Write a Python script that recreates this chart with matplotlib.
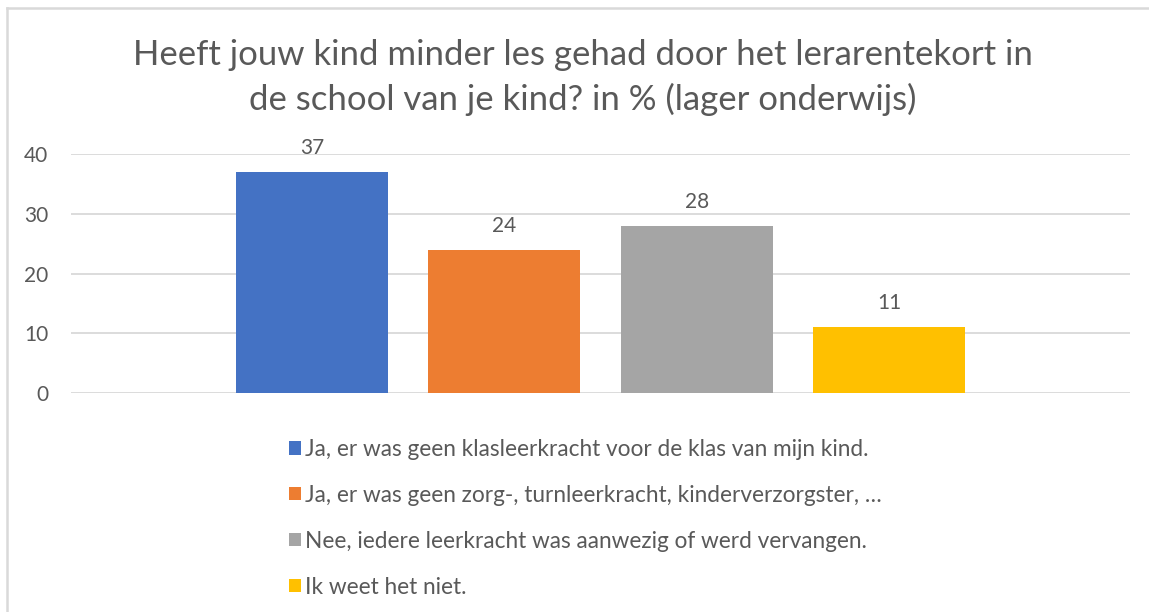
#!/usr/bin/env python3
import matplotlib.pyplot as plt
from matplotlib.lines import Line2D

plt.rcParams['font.family'] = ['Lato', 'DejaVu Sans']

title_lines = ['Heeft jouw kind minder les gehad door het lerarentekort in',
               'de school van je kind? in % (lager onderwijs)']
categories = ['Ja, er was geen klasleerkracht voor de klas van mijn kind.',
              'Ja, er was geen zorg-, turnleerkracht, kinderverzorgster, \u2026',
              'Nee, iedere leerkracht was aanwezig of werd vervangen.',
              'Ik weet het niet.']
values = [37, 24, 28, 11]
colours = ['#4472C4', '#ED7D31', '#A5A5A5', '#FFC000']
yticks = [0, 10, 20, 30, 40]

text_col = '#595959'
grid_col = '#D9D9D9'

fig = plt.figure(figsize=(11.49, 6.12), dpi=100)
ax = fig.add_axes([0.0618, 0.3578, 0.9217, 0.3906])

for i, (lab, v, c) in enumerate(zip(categories, values, colours)):
    b = ax.bar(i, v, width=0.79, color=c, label=lab, zorder=3)
    ax.bar_label(b, padding=10, fontsize=15, color=text_col)

ax.set_xlim(-1.252, 4.252)
ax.set_ylim(0, 40)
ax.set_yticks(yticks)
ax.set_xticks([])
ax.tick_params(axis='y', length=0, labelsize=15, labelcolor=text_col, pad=16.5)
ax.grid(axis='y', color=grid_col, lw=1.3, zorder=0)
for s in ax.spines.values():
    s.set_visible(False)

fig.text(0.507, 1 - 65 / 612, title_lines[0], ha='center', va='baseline',
         fontsize=25, color=text_col)
fig.text(0.507, 1 - 110 / 612, title_lines[1], ha='center', va='baseline',
         fontsize=25, color=text_col)

fig.legend(loc='upper left', bbox_to_anchor=(289 / 1149, 1 - 439 / 612),
           ncol=1, frameon=False, fontsize=16.3, labelcolor=text_col,
           handlelength=0.52, handleheight=0.52, handletextpad=0.2,
           labelspacing=1.1, borderpad=0, borderaxespad=0)

# chart frame (left and top edges only are visible)
fig.add_artist(Line2D([7 / 1149, 7 / 1149], [0, 1 - 8 / 612],
                      transform=fig.transFigure, color=grid_col, lw=1.8))
fig.add_artist(Line2D([7 / 1149, 1], [1 - 8 / 612, 1 - 8 / 612],
                      transform=fig.transFigure, color=grid_col, lw=1.8))

fig.savefig('out.png', dpi=100)
